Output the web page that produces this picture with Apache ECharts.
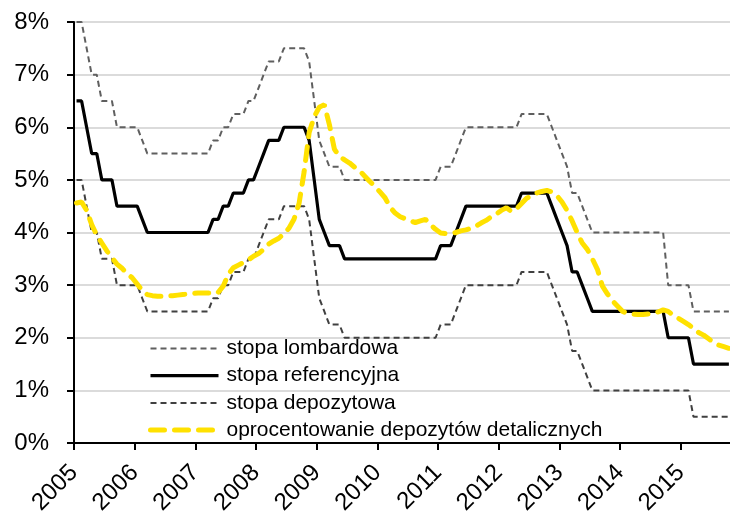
<!DOCTYPE html>
<html>
<head>
<meta charset="utf-8">
<script src="https://cdn.jsdelivr.net/npm/echarts@6/dist/echarts.min.js"></script>
<style>html,body{margin:0;padding:0;background:#fff}#c{width:730px;height:517px}</style>
</head>
<body>
<div id="c"></div>
<script>
// Monthly data, January 2005 .. October 2015 (130 months)
const startYear = 2005;
const seriesNames = ['stopa lombardowa', 'stopa referencyjna', 'stopa depozytowa', 'oprocentowanie depozytów detalicznych'];
const yearTicks = [2005, 2006, 2007, 2008, 2009, 2010, 2011, 2012, 2013, 2014, 2015];

const lombard = [
  8.0, 8.0, 7.5, 7.0, 7.0, 6.5, 6.5, 6.5, 6.0, 6.0, 6.0, 6.0,
  6.0, 5.75, 5.5, 5.5, 5.5, 5.5, 5.5, 5.5, 5.5, 5.5, 5.5, 5.5,
  5.5, 5.5, 5.5, 5.75, 5.75, 6.0, 6.0, 6.25, 6.25, 6.25, 6.5, 6.5,
  6.75, 7.0, 7.25, 7.25, 7.25, 7.5, 7.5, 7.5, 7.5, 7.5, 7.25, 6.5,
  5.75, 5.5, 5.25, 5.25, 5.25, 5.0, 5.0, 5.0, 5.0, 5.0, 5.0, 5.0,
  5.0, 5.0, 5.0, 5.0, 5.0, 5.0, 5.0, 5.0, 5.0, 5.0, 5.0, 5.0,
  5.25, 5.25, 5.25, 5.5, 5.75, 6.0, 6.0, 6.0, 6.0, 6.0, 6.0, 6.0,
  6.0, 6.0, 6.0, 6.0, 6.25, 6.25, 6.25, 6.25, 6.25, 6.25, 6.0, 5.75,
  5.5, 5.25, 4.75, 4.75, 4.5, 4.25, 4.0, 4.0, 4.0, 4.0, 4.0, 4.0,
  4.0, 4.0, 4.0, 4.0, 4.0, 4.0, 4.0, 4.0, 4.0, 3.0, 3.0, 3.0,
  3.0, 3.0, 2.5, 2.5, 2.5, 2.5, 2.5, 2.5, 2.5, 2.5
];
const reference = [
  6.5, 6.5, 6.0, 5.5, 5.5, 5.0, 5.0, 5.0, 4.5, 4.5, 4.5, 4.5,
  4.5, 4.25, 4.0, 4.0, 4.0, 4.0, 4.0, 4.0, 4.0, 4.0, 4.0, 4.0,
  4.0, 4.0, 4.0, 4.25, 4.25, 4.5, 4.5, 4.75, 4.75, 4.75, 5.0, 5.0,
  5.25, 5.5, 5.75, 5.75, 5.75, 6.0, 6.0, 6.0, 6.0, 6.0, 5.75, 5.0,
  4.25, 4.0, 3.75, 3.75, 3.75, 3.5, 3.5, 3.5, 3.5, 3.5, 3.5, 3.5,
  3.5, 3.5, 3.5, 3.5, 3.5, 3.5, 3.5, 3.5, 3.5, 3.5, 3.5, 3.5,
  3.75, 3.75, 3.75, 4.0, 4.25, 4.5, 4.5, 4.5, 4.5, 4.5, 4.5, 4.5,
  4.5, 4.5, 4.5, 4.5, 4.75, 4.75, 4.75, 4.75, 4.75, 4.75, 4.5, 4.25,
  4.0, 3.75, 3.25, 3.25, 3.0, 2.75, 2.5, 2.5, 2.5, 2.5, 2.5, 2.5,
  2.5, 2.5, 2.5, 2.5, 2.5, 2.5, 2.5, 2.5, 2.5, 2.0, 2.0, 2.0,
  2.0, 2.0, 1.5, 1.5, 1.5, 1.5, 1.5, 1.5, 1.5, 1.5
];
const deposit = [
  5.0, 5.0, 4.5, 4.0, 4.0, 3.5, 3.5, 3.5, 3.0, 3.0, 3.0, 3.0,
  3.0, 2.75, 2.5, 2.5, 2.5, 2.5, 2.5, 2.5, 2.5, 2.5, 2.5, 2.5,
  2.5, 2.5, 2.5, 2.75, 2.75, 3.0, 3.0, 3.25, 3.25, 3.25, 3.5, 3.5,
  3.75, 4.0, 4.25, 4.25, 4.25, 4.5, 4.5, 4.5, 4.5, 4.5, 4.25, 3.5,
  2.75, 2.5, 2.25, 2.25, 2.25, 2.0, 2.0, 2.0, 2.0, 2.0, 2.0, 2.0,
  2.0, 2.0, 2.0, 2.0, 2.0, 2.0, 2.0, 2.0, 2.0, 2.0, 2.0, 2.0,
  2.25, 2.25, 2.25, 2.5, 2.75, 3.0, 3.0, 3.0, 3.0, 3.0, 3.0, 3.0,
  3.0, 3.0, 3.0, 3.0, 3.25, 3.25, 3.25, 3.25, 3.25, 3.25, 3.0, 2.75,
  2.5, 2.25, 1.75, 1.75, 1.5, 1.25, 1.0, 1.0, 1.0, 1.0, 1.0, 1.0,
  1.0, 1.0, 1.0, 1.0, 1.0, 1.0, 1.0, 1.0, 1.0, 1.0, 1.0, 1.0,
  1.0, 1.0, 0.5, 0.5, 0.5, 0.5, 0.5, 0.5, 0.5, 0.5
];
const retail = [
  4.56, 4.58, 4.42, 4.15, 3.95, 3.80, 3.65, 3.52, 3.40, 3.32, 3.22, 3.14,
  3.02, 2.90, 2.82, 2.80, 2.79, 2.79, 2.80, 2.80, 2.81, 2.82, 2.83, 2.84,
  2.85, 2.85, 2.85, 2.84, 2.86, 2.98, 3.20, 3.33, 3.38, 3.43, 3.48, 3.55,
  3.60, 3.68, 3.78, 3.84, 3.89, 3.98, 4.08, 4.25, 4.55, 5.15, 5.90, 6.20,
  6.38, 6.43, 6.05, 5.58, 5.45, 5.38, 5.32, 5.24, 5.17, 5.07, 4.97, 4.88,
  4.77, 4.66, 4.48, 4.37, 4.30, 4.26, 4.22, 4.19, 4.22, 4.25, 4.15, 4.06,
  3.99, 3.98, 3.98, 4.00, 4.03, 4.05, 4.08, 4.12, 4.18, 4.23, 4.30, 4.35,
  4.42, 4.47, 4.40, 4.45, 4.55, 4.65, 4.70, 4.75, 4.78, 4.80, 4.77, 4.70,
  4.58, 4.42, 4.22, 4.00, 3.80, 3.68, 3.50, 3.30, 2.98, 2.83, 2.70, 2.60,
  2.50, 2.46, 2.45, 2.44, 2.44, 2.45, 2.46, 2.49, 2.53, 2.50, 2.43, 2.37,
  2.31, 2.25, 2.18, 2.10, 2.05, 1.98, 1.91, 1.86, 1.83, 1.80
];

// month i is centred in its month on the time axis
const toPoints = arr => arr.map((v, i) => [startYear + (i + 0.5) / 12, v]);

const chart = echarts.init(document.getElementById('c'), null, {renderer: 'canvas'});
const FONT = 'Liberation Sans, Arial, sans-serif';

const styles = [
  {color: '#5f5f5f', width: 2, type: [6, 4]},
  {color: '#000000', width: 3.2, type: 'solid'},
  {color: '#404040', width: 2, type: [6, 4]},
  {color: '#ffe100', width: 5, type: [14, 10], cap: 'round'}
];
const values = [lombard, reference, deposit, retail];

chart.setOption({
  animation: false,
  grid: {left: 74, right: 0, top: 22, bottom: 74, containLabel: false, outerBoundsMode: 'none'},
  legend: {
    orient: 'vertical',
    left: 143,
    top: 333,
    itemWidth: 68,
    itemHeight: 14,
    itemGap: 6.2,
    data: seriesNames.map((n, i) => ({name: n, lineStyle: {width: styles[i].width, type: styles[i].type, color: styles[i].color, cap: styles[i].cap || 'butt'}})),
    itemStyle: {opacity: 0, color: 'transparent', borderWidth: 0},
    lineStyle: {width: 'inherit'},
    textStyle: {fontFamily: FONT, fontSize: 21, color: '#000', padding: [0, 0, 0, 3]}
  },
  xAxis: {
    type: 'value',
    min: yearTicks[0],
    max: 2015.81,
    interval: 1,
    axisLine: {lineStyle: {color: '#000', width: 2}},
    axisTick: {show: true, length: 7, lineStyle: {color: '#000', width: 2}},
    splitLine: {show: false},
    axisLabel: {
      rotate: 45,
      margin: 26,
      fontFamily: FONT,
      fontSize: 24,
      color: '#000',
      showMaxLabel: false,
      formatter: v => (yearTicks.indexOf(Math.round(v)) >= 0 ? String(Math.round(v)) : '')
    }
  },
  yAxis: {
    type: 'value',
    min: 0,
    max: 8,
    interval: 1,
    axisLine: {show: true, lineStyle: {color: '#000', width: 2}},
    axisTick: {show: true, length: 7, lineStyle: {color: '#000', width: 2}},
    splitLine: {show: true, lineStyle: {color: '#cfcfcf', width: 1.5}},
    axisLabel: {margin: 25, fontFamily: FONT, fontSize: 24, color: '#000', formatter: '{value}%'}
  },
  series: seriesNames.map((n, i) => ({
    name: n,
    type: 'line',
    symbol: 'none',
    data: toPoints(values[i]),
    lineStyle: styles[i],
    itemStyle: {color: styles[i].color}
  }))
});
</script>
</body>
</html>
